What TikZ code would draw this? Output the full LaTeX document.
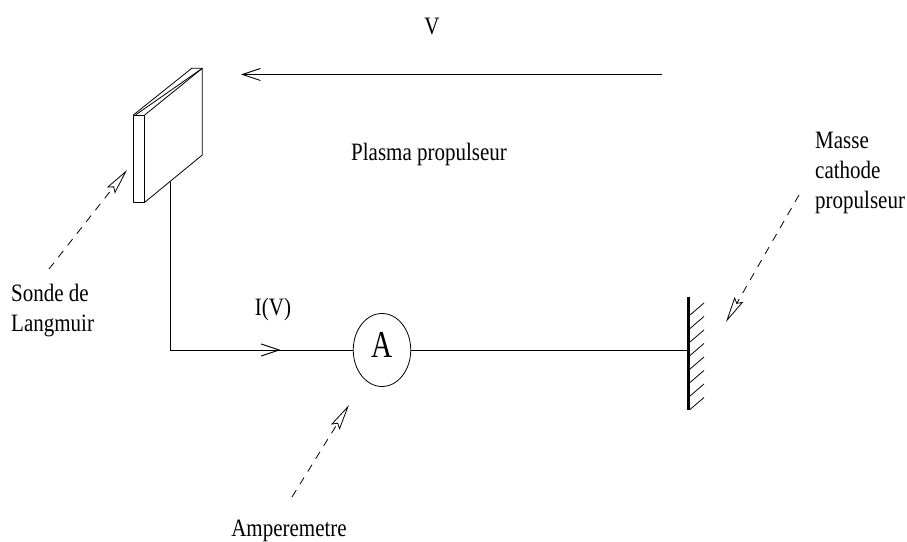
\documentclass[tikz,border=0pt]{standalone}
\usepackage{fontspec}
\setmainfont[FakeStretch=0.84]{Liberation Serif}
\newfontfamily\meterfont[FakeStretch=0.77]{Liberation Serif}
\usetikzlibrary{arrows.meta,shapes.geometric}
\tikzset{
  x=1bp,y=-1bp,
  line width=0.9bp,
  lbl/.style={inner sep=0pt,font=\fontsize{25bp}{30bp}\selectfont,align=left,anchor=west},
  lblc/.style={lbl,align=center,anchor=center},
  openhead/.style={-{Straight Barb[length=18bp,width=12bp,line width=0.9bp]}},
  pointer/.style={dashed,dash pattern=on 8bp off 7bp,line width=0.8bp,-{Stealth[open,length=26bp,width=10bp,inset=4bp,line width=0.8bp]}},
  plate/.style={line width=0.8bp,line join=round},
  hatchline/.style={line width=0.8bp},
  meter/.style={draw,ellipse,line width=0.8bp,minimum width=57.5bp,minimum height=73bp,inner sep=0pt,font=\meterfont\fontsize{38bp}{40bp}\selectfont}
}
\begin{document}
\begin{tikzpicture}
\useasboundingbox (0,0) rectangle (907,542);
% plate
\draw[plate] (133.4,115) rectangle (144.7,202.3);
\draw[plate] (144.7,115) -- (202.3,68.3) -- (202.3,155) -- (144.7,202.3);
\draw[plate] (133.4,115) -- (191.7,68.3) -- (202.3,68.3);
\draw[plate] (135.5,115) -- (202.3,68.3);
% circuit
\coordinate (plateFoot) at (170.4,182);
\coordinate (corner) at (170.4,350);
\node[meter] (ammeter) at (382,350) {\raisebox{-8bp}[0pt][0pt]{A}};
\coordinate (wallTop) at (688.3,297);
\coordinate (wallBot) at (688.3,410);
\coordinate (wallMid) at (688.3,350);
\draw (plateFoot) -- (corner) -- (ammeter.west);
\draw (ammeter.east) -- (wallMid);
\coordinate (currentTip) at (280.5,350);
\draw[openhead] (corner) -- (currentTip);
\draw[line width=3.2bp] (wallTop) -- (wallBot);
\foreach \y in {315,328.5,342,355.5,369,382.5,396,409.5}
  \draw[hatchline] (690,\y) -- (704,\y-12);
% velocity arrow
\coordinate (vStart) at (662,74.5);
\coordinate (vEnd) at (241,74.5);
\draw[openhead] (vStart) -- (vEnd);
% pointers
\coordinate (sondeFrom) at (49,269);
\coordinate (sondeTip) at (127,170);
\coordinate (masseFrom) at (799,195);
\coordinate (masseTip) at (726,322);
\coordinate (ampFrom) at (292,497);
\coordinate (ampTip) at (349,405);
\draw[pointer] (sondeFrom) -- (sondeTip);
\draw[pointer] (masseFrom) -- (masseTip);
\draw[pointer] (ampFrom) -- (ampTip);
% labels
\node[lblc] (vlabel) at (432,27) {V};
\node[lbl] (plasma) at (351,154) {Plasma propulseur};
\node[lbl] (sonde) at (11,311) {Sonde de\\Langmuir};
\node[lbl] (masse) at (815,173) {Masse\\cathode\\propulseur};
\node[lblc] (iv) at (273,309) {I(V)};
\node[lblc] (amp) at (289,531) {Amperemetre};
\end{tikzpicture}
\end{document}
